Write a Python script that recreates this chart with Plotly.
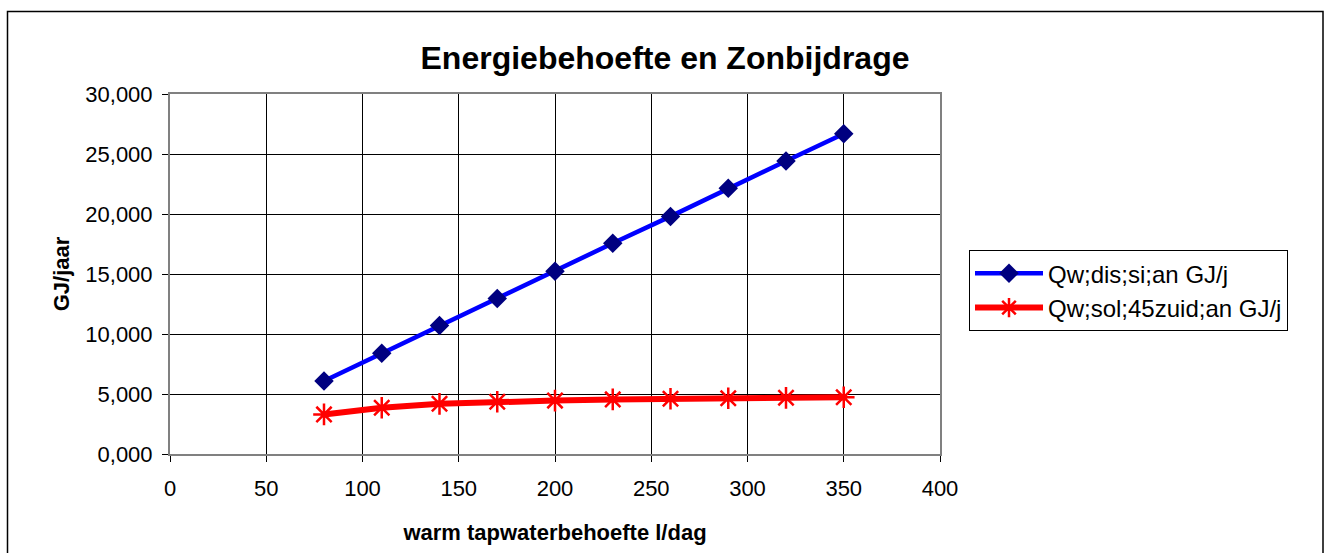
import plotly.graph_objects as go

# Data
tapwater_l_per_day = [80, 110, 140, 170, 200, 230, 260, 290, 320, 350]
q_dis_si = [6.09, 8.40, 10.70, 12.95, 15.23, 17.56, 19.80, 22.14, 24.41, 26.69]
q_sol_45zuid = [3.30, 3.85, 4.18, 4.35, 4.45, 4.55, 4.60, 4.65, 4.68, 4.73]

series_names = ["Qw;dis;si;an GJ/j", "Qw;sol;45zuid;an GJ/j"]
title_text = "Energiebehoefte en Zonbijdrage"
x_title = "warm tapwaterbehoefte l/dag"
y_title = "GJ/jaar"

FONT = "Arial, 'Liberation Sans', sans-serif"

W, H = 1326, 553
L, R, T, B = 170, 940, 94, 458

fig = go.Figure()
fig.add_trace(go.Scatter(
    x=tapwater_l_per_day, y=q_dis_si, name=series_names[0],
    mode="lines+markers",
    line=dict(color="#0000FF", width=4.5),
    marker=dict(symbol="diamond", size=15, color="#000080", line=dict(width=0)),
))
fig.add_trace(go.Scatter(
    x=tapwater_l_per_day, y=q_sol_45zuid, name=series_names[1],
    mode="lines+markers",
    line=dict(color="#FF0000", width=6),
    marker=dict(symbol="asterisk", size=18, color="#FF0000",
                line=dict(width=2.5, color="#FF0000")),
))

def px_to_paper_x(px):
    return (px - L) / (R - L)

def px_to_paper_y(py):
    return (B - py) / (B - T)

# outer chart-area frame
fig.add_shape(type="rect", xref="paper", yref="paper",
              x0=px_to_paper_x(7.5), x1=px_to_paper_x(1323),
              y0=px_to_paper_y(620), y1=px_to_paper_y(10.5),
              line=dict(color="black", width=1.5), fillcolor="rgba(0,0,0,0)",
              layer="below")

fig.update_layout(
    width=W, height=H,
    margin=dict(l=L, r=W - R, t=T, b=H - B, pad=0),
    paper_bgcolor="white", plot_bgcolor="white",
    font=dict(family=FONT, size=22, color="black"),
    separators=",.",
    title=dict(text="<b>" + title_text + "</b>", x=665 / W, xref="container",
               xanchor="center", y=1 - 58 / H, yref="container", yanchor="middle",
               font=dict(size=32, family=FONT, color="black")),
    showlegend=True,
    legend=dict(x=px_to_paper_x(969), y=px_to_paper_y(252), xanchor="left", yanchor="top",
                bordercolor="black", borderwidth=1, bgcolor="white",
                font=dict(size=24, family=FONT, color="black"),
                tracegroupgap=0, itemwidth=68, entrywidth=262, entrywidthmode="pixels"),
    xaxis=dict(range=[0, 400], tickvals=[0, 50, 100, 150, 200, 250, 300, 350, 400],
               showgrid=True, gridcolor="black", gridwidth=1,
               showline=True, linecolor="#808080", linewidth=2, mirror=True,
               ticks="outside", ticklen=6, tickcolor="black", tickwidth=1,
               ticklabelstandoff=8, zeroline=False,
               tickfont=dict(size=22, family=FONT, color="black"),
               title=dict(text="<b>" + x_title + "</b>", standoff=24,
                          font=dict(size=22, family=FONT, color="black"))),
    yaxis=dict(range=[0, 30], tickvals=[0, 5, 10, 15, 20, 25, 30], tickformat=".3f",
               showgrid=True, gridcolor="black", gridwidth=1,
               showline=True, linecolor="#808080", linewidth=2, mirror=True,
               ticks="outside", ticklen=6, tickcolor="black", tickwidth=1,
               ticklabelstandoff=5, zeroline=False,
               tickfont=dict(size=22, family=FONT, color="black"),
               title=dict(text="<b>" + y_title + "</b>", standoff=10,
                          font=dict(size=22, family=FONT, color="black"))),
)

fig.write_html(
    "out.html",
    config={"displayModeBar": False},
    post_script="document.body.style.margin='0';document.body.style.overflow='hidden';",
)
